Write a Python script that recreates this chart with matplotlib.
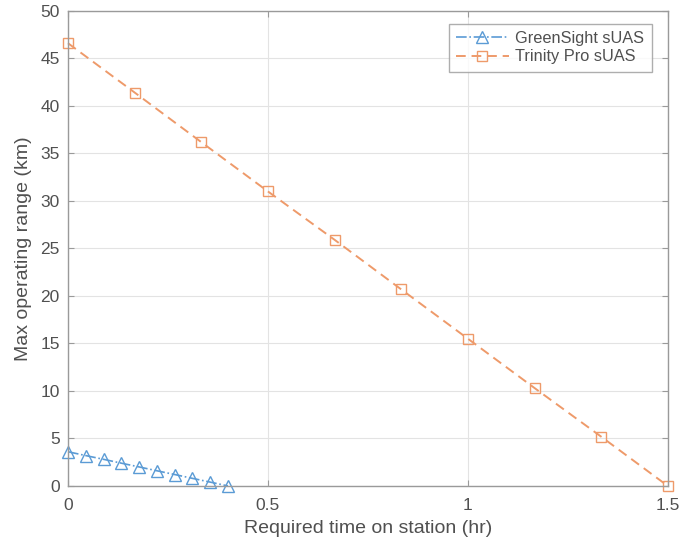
import numpy as np
import matplotlib.pyplot as plt

plt.rcParams['font.family'] = ['Liberation Sans', 'DejaVu Sans']

# data
green_t = [0, 0.044, 0.089, 0.133, 0.178, 0.222, 0.267, 0.311, 0.356, 0.4]
green_r = [3.6, 3.2, 2.8, 2.4, 2.0, 1.6, 1.2, 0.8, 0.4, 0.0]
trinity_t = [0, 0.167, 0.333, 0.5, 0.667, 0.833, 1.0, 1.167, 1.333, 1.5]
trinity_r = [46.6, 41.4, 36.2, 31.0, 25.9, 20.7, 15.5, 10.3, 5.2, 0.0]

BLUE = '#5b9bd5'
ORANGE = '#ee9a6a'
AXIS_GRAY = '#9a9a9a'
TEXT_GRAY = '#505050'

fig = plt.figure(figsize=(6.8, 5.46), dpi=100)
ax = fig.add_axes([0.1, 0.11, 0.882, 0.87])

ax.plot(green_t, green_r, linestyle='-.', color=BLUE, linewidth=1.2,
        marker='^', markersize=8, markerfacecolor='none', markeredgecolor=BLUE,
        markeredgewidth=1.0, label='GreenSight sUAS', clip_on=False)
ax.plot(trinity_t, trinity_r, linestyle='--', color=ORANGE, linewidth=1.4,
        dashes=(5, 3), marker='s', markersize=7, markerfacecolor='none',
        markeredgecolor=ORANGE, markeredgewidth=1.0, label='Trinity Pro sUAS',
        clip_on=False)

ax.set_xlim(0, 1.5)
ax.set_ylim(0, 50)
ax.set_xticks([0, 0.5, 1, 1.5])
ax.set_xticklabels(['0', '0.5', '1', '1.5'])
ax.set_yticks(np.arange(0, 51, 5))

ax.grid(True, color='#e3e3e3', linewidth=0.8)
ax.set_axisbelow(True)
for s in ax.spines.values():
    s.set_color(AXIS_GRAY)
    s.set_linewidth(1.0)
ax.tick_params(direction='in', top=True, right=True, length=4, width=0.8,
               color=AXIS_GRAY, labelcolor=TEXT_GRAY, labelsize=12.5)
ax.tick_params(axis='x', pad=9)
ax.tick_params(axis='y', pad=6)

ax.set_xlabel('Required time on station (hr)', fontsize=14, color=TEXT_GRAY, labelpad=5)
ax.set_ylabel('Max operating range (km)', fontsize=14, color=TEXT_GRAY, labelpad=6)

leg = ax.legend(loc='upper right', fontsize=11.8, frameon=True, fancybox=False,
                edgecolor=AXIS_GRAY, borderpad=0.45, labelspacing=0.2,
                handlelength=3.2, handletextpad=0.4, borderaxespad=0,
                bbox_to_anchor=(0.973, 0.973))
leg.get_frame().set_linewidth(1.0)
for t in leg.get_texts():
    t.set_color(TEXT_GRAY)

fig.savefig('out.png', dpi=100)
